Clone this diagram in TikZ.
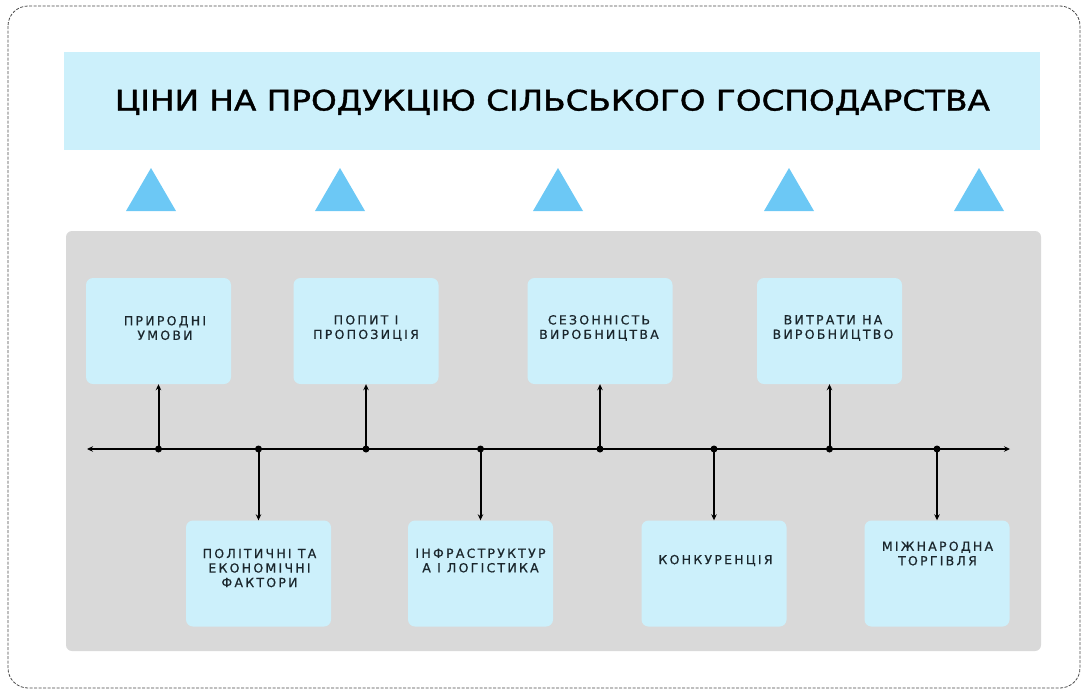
\documentclass[tikz,border=0pt]{standalone}
\usepackage{fontspec}
\setmainfont{DejaVu Sans}
\newfontfamily\boxfont[LetterSpace=18,FakeBold=0.6]{DejaVu Sans}
\newfontfamily\titlefont[FakeBold=1.2]{DejaVu Sans}
\usetikzlibrary{arrows.meta}
\definecolor{boxblue}{HTML}{CCF0FB}
\definecolor{triblue}{HTML}{6CC8F5}
\definecolor{panelgray}{HTML}{D9D9D9}
\definecolor{txt}{HTML}{1A262C}
\definecolor{bordergray}{HTML}{4A4A4A}
\begin{document}
\begin{tikzpicture}[x=1pt,y=-1pt,
 factor/.style={fill=boxblue, rounded corners=7pt, minimum width=145pt, minimum height=106pt, inner sep=0pt},
 ftext/.style={font=\boxfont\fontsize{12.5}{14.5}\selectfont, text=txt, align=center, inner sep=0pt},
 tri/.style={fill=triblue, draw=none},
 link/.style={line width=2pt, -{Stealth[length=6pt,width=5.5pt]}},
 jdot/.style={circle, fill=black, minimum size=7pt, inner sep=0pt}
]
\useasboundingbox (0,0) rectangle (1084,691);
\draw[draw=bordergray, line width=0.8pt, dash pattern=on 3pt off 1.5pt, rounded corners=20pt] (8,6) rectangle (1080,688);
% title
\node[fill=boxblue, minimum width=976pt, minimum height=98pt, inner sep=0pt] (title) at (552,101) {};
\node[anchor=base, inner sep=0pt, text=black] (titletext) at (552.5,110.5)
  {\resizebox{875pt}{21pt}{\titlefont ЦІНИ НА ПРОДУКЦІЮ СІЛЬСЬКОГО ГОСПОДАРСТВА}};
% triangles
\foreach \x in {151,340,558,789,979}{
  \fill[tri] (\x-25,211) -- (\x,168) -- (\x+25,211) -- cycle;
}
% panel
\node[fill=panelgray, rounded corners=6pt, minimum width=975pt, minimum height=420pt, inner sep=0pt] (panel) at (553.5,441) {};
% boxes
\node[factor] (b1) at (158.5,331) {};
\node[factor] (b2) at (366,331) {};
\node[factor] (b3) at (600,331) {};
\node[factor] (b4) at (829.5,331) {};
\node[factor] (b5) at (258.5,573.5) {};
\node[factor] (b6) at (480.5,573.5) {};
\node[factor] (b7) at (714,573.5) {};
\node[factor] (b8) at (937,573.5) {};
% texts
\node[ftext] (t1) at (165,328) {ПРИРОДНІ\\УМОВИ};
\node[ftext] (t2) at (366,328) {ПОПИТ І\\ПРОПОЗИЦІЯ};
\node[ftext] (t3) at (599,328) {СЕЗОННІСТЬ\\ВИРОБНИЦТВА};
\node[ftext] (t4) at (833,328) {ВИТРАТИ НА\\ВИРОБНИЦТВО};
\node[ftext] (t5) at (259.5,568) {ПОЛІТИЧНІ ТА\\ЕКОНОМІЧНІ\\ФАКТОРИ};
\node[ftext] (t6) at (480.5,560.5) {ІНФРАСТРУКТУР\\А І ЛОГІСТИКА};
\node[ftext] (t7) at (715.5,560.5) {КОНКУРЕНЦІЯ};
\node[ftext] (t8) at (937.5,553.5) {МІЖНАРОДНА\\ТОРГІВЛЯ};
% axis
\coordinate (axL) at (87,449);
\coordinate (axR) at (1010,449);
\draw[line width=2pt, {Stealth[length=6pt,width=5.5pt]}-{Stealth[length=6pt,width=5.5pt]}] (axL) -- (axR);
\node[jdot] (d1) at (158.5,449) {};
\node[jdot] (d2) at (258.5,449) {};
\node[jdot] (d3) at (366,449) {};
\node[jdot] (d4) at (480.5,449) {};
\node[jdot] (d5) at (600,449) {};
\node[jdot] (d6) at (714,449) {};
\node[jdot] (d7) at (829.5,449) {};
\node[jdot] (d8) at (937,449) {};
\draw[link] (d1.center) -- (b1.south);
\draw[link] (d3.center) -- (b2.south);
\draw[link] (d5.center) -- (b3.south);
\draw[link] (d7.center) -- (b4.south);
\draw[link] (d2.center) -- (b5.north);
\draw[link] (d4.center) -- (b6.north);
\draw[link] (d6.center) -- (b7.north);
\draw[link] (d8.center) -- (b8.north);
\end{tikzpicture}
\end{document}
